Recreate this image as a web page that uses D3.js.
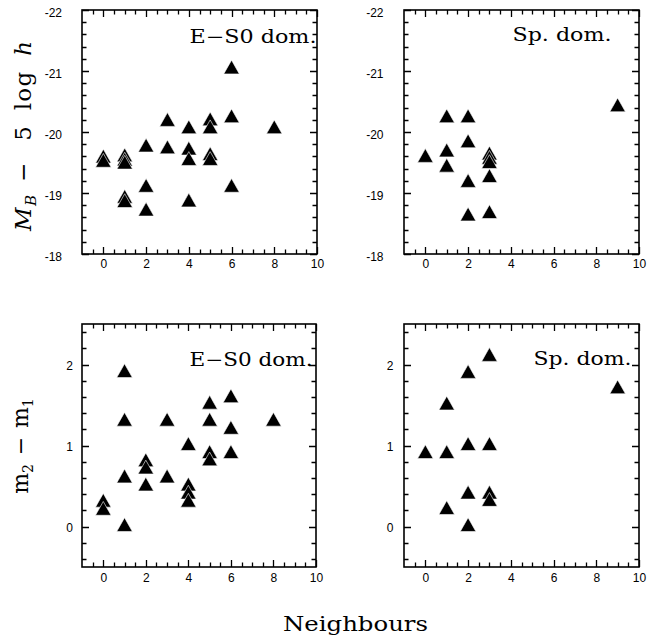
<!DOCTYPE html>
<html>
<head>
<meta charset="utf-8">
<script src="https://cdn.jsdelivr.net/npm/d3@7"></script>
<style>
  html, body { margin: 0; padding: 0; background: #fff; }
  svg { display: block; }
  .tick text { font-family: "Liberation Sans", Arial, sans-serif; font-size: 12px; fill: #000; }
  .domain { display: none; }
</style>
</head>
<body>
<svg id="chart" width="649" height="639"></svg>
<script>
// ---------- data ----------
const xTickLabels = [0, 2, 4, 6, 8, 10];
const magTickLabels = [-22, -21, -20, -19, -18];
const colTickLabels = [0, 1, 2];

// E-S0 dominated groups: neighbours vs absolute magnitude
const es0MagNeigh = [0, 0, 1, 1, 1, 1, 1, 2, 2, 2, 3, 3, 4, 4, 4, 4, 5, 5, 5, 5, 6, 6, 6, 8];
const es0Mag      = [-19.6, -19.53, -19.62, -19.55, -19.5, -18.94, -18.87, -19.78, -19.12, -18.73,
                     -20.2, -19.75, -20.08, -19.73, -19.56, -18.88, -20.21, -20.08, -19.64, -19.56,
                     -21.06, -20.26, -19.12, -20.08];

// Spiral dominated groups: neighbours vs absolute magnitude
const spMagNeigh = [0, 1, 1, 1, 2, 2, 2, 2, 3, 3, 3, 3, 3, 9];
const spMag      = [-19.61, -20.26, -19.7, -19.45, -20.26, -19.85, -19.2, -18.65,
                    -19.65, -19.58, -19.51, -19.28, -18.69, -20.44];

// E-S0 dominated groups: neighbours vs m2 - m1
const es0ColNeigh = [0, 0, 1, 1, 1, 1, 2, 2, 2, 3, 3, 4, 4, 4, 4, 5, 5, 5, 5, 6, 6, 6, 8];
const es0Col      = [0.32, 0.22, 1.92, 1.32, 0.62, 0.02, 0.82, 0.73, 0.52, 1.32, 0.62,
                     1.02, 0.52, 0.42, 0.32, 1.53, 1.32, 0.92, 0.83, 1.61, 1.22, 0.92, 1.32];

// Spiral dominated groups: neighbours vs m2 - m1
const spColNeigh = [0, 1, 1, 1, 2, 2, 2, 2, 3, 3, 3, 3, 9];
const spCol      = [0.92, 1.52, 0.92, 0.23, 1.91, 1.02, 0.42, 0.02, 2.12, 1.02, 0.42, 0.33, 1.72];

const panelLabels = ["E\u2212S0 dom.", "Sp. dom.", "E\u2212S0 dom.", "Sp. dom."];

// ---------- drawing ----------
const svg = d3.select("#chart");
const serif = "'DejaVu Serif', 'Liberation Serif', serif";

const panels = [
  { x0: 82,  x1: 317, y0: 10,  y1: 254, xs: es0MagNeigh, ys: es0Mag, yDom: [-22, -18], yTicks: magTickLabels,
    yPad: 20, xPad: 5, label: panelLabels[0], lx: 189.5, ly: 42.5, lw: 127 },
  { x0: 404, x1: 639, y0: 10,  y1: 254, xs: spMagNeigh, ys: spMag, yDom: [-22, -18], yTicks: magTickLabels,
    yPad: 20.5, xPad: 5, label: panelLabels[1], lx: 512.5, ly: 41, lw: 99 },
  { x0: 82,  x1: 316, y0: 324, y1: 567, xs: es0ColNeigh, ys: es0Col, yDom: [-0.5, 2.5], yTicks: colTickLabels,
    yPad: 9, xPad: 6.5, label: panelLabels[2], lx: 189.5, ly: 366, lw: 123 },
  { x0: 404, x1: 639, y0: 324, y1: 567, xs: spColNeigh, ys: spCol, yDom: [-0.5, 2.5], yTicks: colTickLabels,
    yPad: 10.5, xPad: 6.5, label: panelLabels[3], lx: 533.5, ly: 365, lw: 98 }
];

const MAJ = 7, MIN = 4.5;

panels.forEach(p => {
  const x = d3.scaleLinear().domain([-1, 10]).range([p.x0, p.x1]);
  const isMag = p.yDom[0] < -10;
  const y = isMag
    ? d3.scaleLinear().domain([-22, -18]).range([p.y0, p.y1])
    : d3.scaleLinear().domain([-0.5, 2.5]).range([p.y1, p.y0]);

  const g = svg.append("g");

  // tick positions (every 0.5 in x, every 0.2 in y)
  const xMinor = d3.range(-1, 21).map(k => k * 0.5)
    .filter(v => v > -1 && v < 10 && Math.abs(v / 2 - Math.round(v / 2)) > 1e-6);
  const yLo = Math.min(...p.yDom), yHi = Math.max(...p.yDom);
  const yMinor = d3.range(Math.ceil(yLo * 5 - 1e-6), Math.floor(yHi * 5 + 1e-6) + 1)
    .map(k => +(k / 5).toFixed(3))
    .filter(v => v > yLo && v < yHi && Math.abs(v - Math.round(v)) > 1e-6);

  const xTicksAll = xTickLabels.map(v => [v, MAJ]).concat(xMinor.map(v => [v, MIN]));
  const yTicksAll = p.yTicks.map(v => [v, MAJ]).concat(yMinor.map(v => [v, MIN]));

  // inward ticks on all four sides
  let dTicks = "";
  xTicksAll.forEach(([v, len]) => {
    const xx = Math.round(x(v)) + 0.5;
    dTicks += `M${xx},${p.y1}V${p.y1 - len}`;
    dTicks += `M${xx},${p.y0}V${p.y0 + len}`;
  });
  yTicksAll.forEach(([v, len]) => {
    const yy = Math.round(y(v)) + 0.5;
    dTicks += `M${p.x0},${yy}H${p.x0 + len}`;
    dTicks += `M${p.x1},${yy}H${p.x1 - len}`;
  });
  g.append("path").attr("d", dTicks)
    .attr("fill", "none").attr("stroke", "#000").attr("stroke-width", 1.3);

  // tick labels via axes
  const ba = g.append("g").attr("transform", `translate(0,${p.y1})`)
    .call(d3.axisBottom(x).tickValues(xTickLabels).tickSize(0).tickPadding(p.xPad).tickFormat(d => String(d)));
  ba.selectAll("line").remove();
  const la = g.append("g").attr("transform", `translate(${p.x0},0)`)
    .call(d3.axisLeft(y).tickValues(p.yTicks).tickSize(0).tickPadding(p.yPad).tickFormat(d => String(d)));
  la.selectAll("line").remove();
  la.selectAll("text").attr("dy", isMag ? "0.5em" : "0.38em");

  // frame
  g.append("rect")
    .attr("x", p.x0).attr("y", p.y0)
    .attr("width", p.x1 - p.x0).attr("height", p.y1 - p.y0)
    .attr("fill", "none").attr("stroke", "#000").attr("stroke-width", 1.6);

  // triangles
  const pts = p.xs.map((v, i) => [v, p.ys[i]]);
  g.append("g").selectAll("path").data(pts).join("path")
    .attr("d", d => {
      const cx = x(d[0]), cy = y(d[1]);
      return `M${cx},${cy - 7.2}L${cx + 7.8},${cy + 6.6}L${cx - 7.8},${cy + 6.6}Z`;
    })
    .attr("fill", "#000")
    .attr("stroke", "#fff").attr("stroke-width", 0.6);

  // panel label
  g.append("text")
    .attr("x", p.lx).attr("y", p.ly)
    .attr("textLength", p.lw).attr("lengthAdjust", "spacingAndGlyphs")
    .style("font-family", serif)
    .style("font-size", "18px")
    .text(p.label);
});

// axis titles
const t1 = svg.append("text")
  .attr("transform", "translate(31,136) rotate(-90)")
  .attr("text-anchor", "middle")
  .attr("textLength", 190).attr("lengthAdjust", "spacing")
  .style("font-family", serif).style("font-size", "23px");
t1.append("tspan").style("font-style", "italic").text("M");
t1.append("tspan").style("font-style", "italic").style("font-size", "15px").attr("dy", 5).text("B");
t1.append("tspan").attr("dy", -5).text("\u2009\u2009\u2212\u2009\u2009 5\u2009 log\u2009 ");
t1.append("tspan").style("font-style", "italic").text("h");

const t2 = svg.append("text")
  .attr("transform", "translate(28,446) rotate(-90)")
  .attr("text-anchor", "middle")
  .style("font-family", serif).style("font-size", "22px");
t2.append("tspan").text("m");
t2.append("tspan").style("font-size", "14px").attr("dy", 5).text("2");
t2.append("tspan").attr("dy", -5).text("\u2009\u2009\u2212\u2009\u2009m");
t2.append("tspan").style("font-size", "14px").attr("dy", 5).text("1");

svg.append("text")
  .attr("x", 283).attr("y", 631)
  .attr("textLength", 145).attr("lengthAdjust", "spacingAndGlyphs")
  .style("font-family", serif).style("font-size", "21px")
  .text("Neighbours");
</script>
</body>
</html>
